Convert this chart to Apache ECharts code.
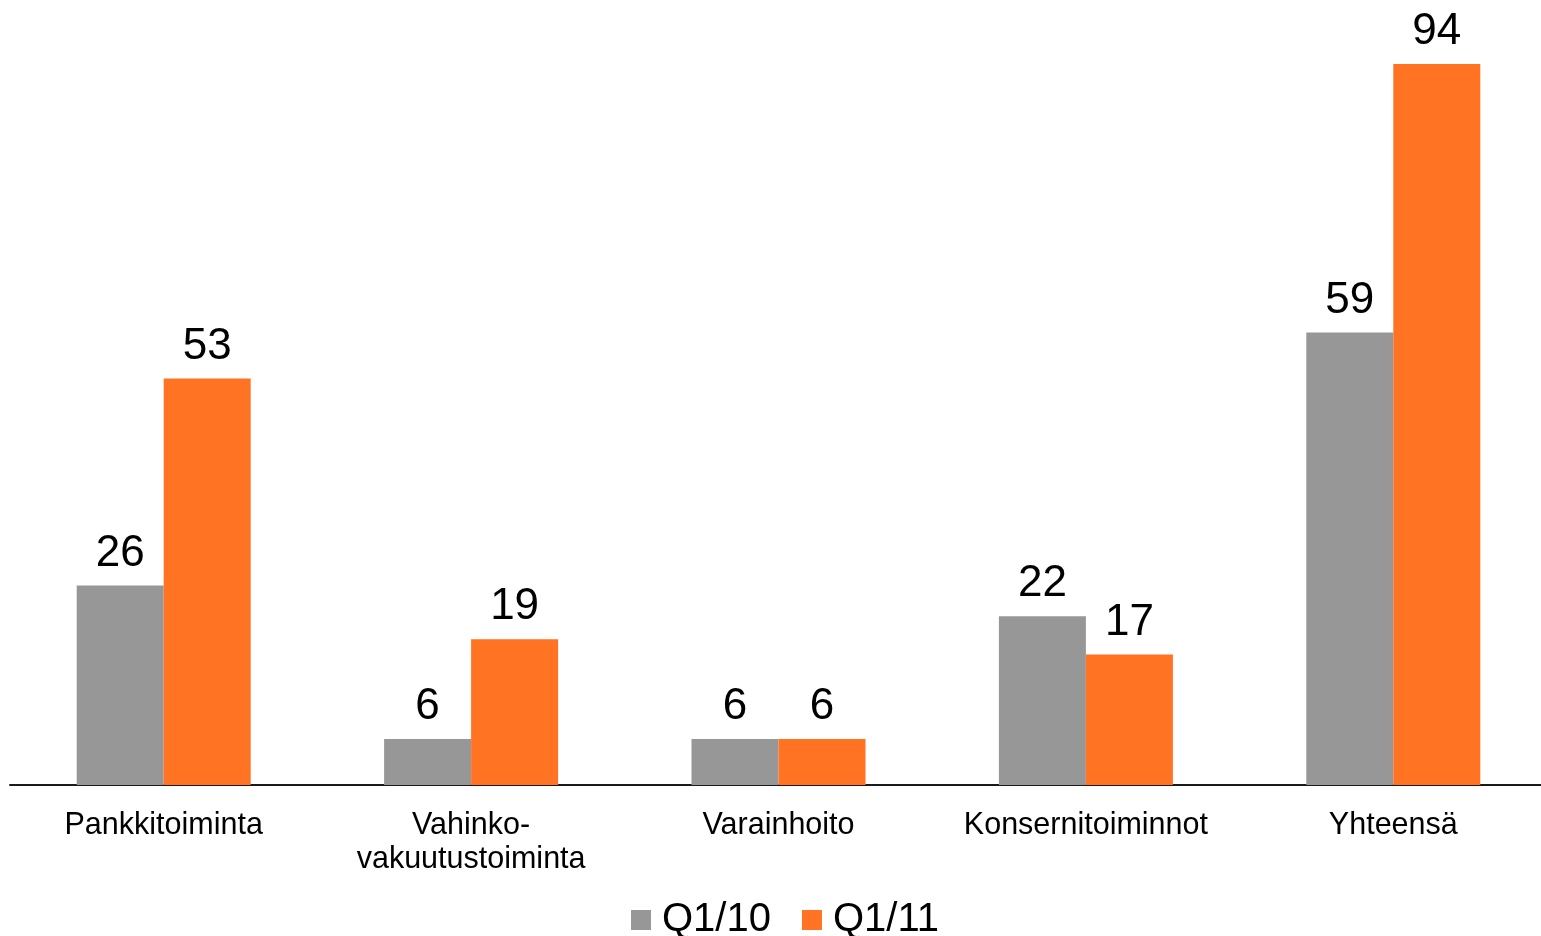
<!DOCTYPE html>
<html>
<head>
<meta charset="utf-8">
<script src="https://cdn.jsdelivr.net/npm/echarts@6/dist/echarts.min.js"></script>
<style>
    html, body { margin: 0; padding: 0; background: #fff; }
    #chart { width: 1541px; height: 936px; }
</style>
</head>
<body>
<div id="chart"></div>
<script>
const categories = ['Pankkitoiminta', 'Vahinko-\nvakuutustoiminta', 'Varainhoito', 'Konsernitoiminnot', 'Yhteensä']
const q110 = [26, 6, 6, 22, 59]
const q111 = [53, 19, 6, 17, 94]

const font = 'Liberation Sans, Arial, sans-serif'

const chart = echarts.init(document.getElementById('chart'))

const labelStyle = {
    show: true,
    position: 'top',
    distance: 10,
    color: '#000',
    fontSize: 44,
    fontFamily: font
}

chart.setOption({
    animation: false,
    backgroundColor: '#fff',
    grid: {left: 10, top: 18, width: 1537, bottom: 151, containLabel: false, outerBoundsMode: 'none'},
    legend: {
        top: 895,
        left: 626,
        itemWidth: 20,
        itemHeight: 20,
        itemGap: 31,
        icon: 'rect',
        textStyle: {fontSize: 40, color: '#000', fontFamily: font, padding: [0, 0, 0, 6]},
        data: ['Q1/10', 'Q1/11']
    },
    xAxis: {
        type: 'category',
        data: categories,
        axisLine: {lineStyle: {color: '#1a1a1a', width: 2}},
        axisTick: {show: false},
        axisLabel: {
            color: '#000',
            fontSize: 30.5,
            fontFamily: font,
            lineHeight: 34,
            margin: 24,
            interval: 0
        }
    },
    yAxis: {
        type: 'value',
        min: 0,
        max: 100,
        show: false,
        splitLine: {show: false}
    },
    series: [
        {
            name: 'Q1/10',
            type: 'bar',
            data: q110,
            barWidth: 87,
            barGap: '0%',
            itemStyle: {color: '#979797'},
            label: labelStyle
        },
        {
            name: 'Q1/11',
            type: 'bar',
            data: q111,
            barWidth: 87,
            itemStyle: {color: '#ff7322'},
            label: labelStyle
        }
    ]
})
</script>
</body>
</html>
